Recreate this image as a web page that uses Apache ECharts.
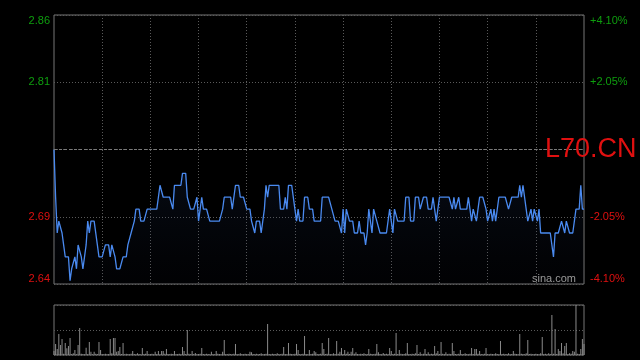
<!DOCTYPE html>
<html><head><meta charset="utf-8">
<script src="https://cdn.jsdelivr.net/npm/echarts@6/dist/echarts.min.js"></script>
<style>html,body{margin:0;padding:0;background:#000}#c{width:640px;height:360px}</style>
</head><body><div id="c"></div>
<script>
// previous close (reference line) and tick levels in basis points
const prevClose = 2.75;
const pctTicks = [-410, -205, 0, 205, 410];
const symbolText = 'L70.CN';
const watermark = 'sina.com';

// minute prices
const priceData = [
2.75,2.71,2.68,2.69,2.69,2.68,2.67,2.66,2.66,2.66,
2.64,2.65,2.65,2.66,2.65,2.67,2.67,2.66,2.65,2.65,
2.67,2.69,2.68,2.69,2.69,2.69,2.69,2.67,2.66,2.66,
2.66,2.66,2.67,2.67,2.67,2.66,2.67,2.67,2.66,2.65,
2.65,2.65,2.65,2.66,2.66,2.66,2.67,2.67,2.68,2.68,
2.69,2.70,2.70,2.70,2.69,2.69,2.69,2.69,2.70,2.70,
2.70,2.70,2.70,2.70,2.70,2.71,2.72,2.72,2.71,2.71,
2.71,2.71,2.71,2.71,2.70,2.72,2.72,2.72,2.72,2.72,
2.73,2.73,2.73,2.71,2.71,2.70,2.70,2.70,2.70,2.71,
2.69,2.70,2.71,2.70,2.70,2.70,2.70,2.69,2.69,2.69,
2.69,2.69,2.69,2.69,2.69,2.70,2.71,2.71,2.71,2.71,
2.71,2.70,2.70,2.72,2.72,2.72,2.71,2.71,2.71,2.71,
2.70,2.70,2.70,2.69,2.69,2.68,2.69,2.69,2.69,2.68,
2.68,2.70,2.72,2.71,2.72,2.72,2.72,2.72,2.72,2.72,
2.72,2.70,2.70,2.70,2.71,2.70,2.72,2.72,2.72,2.72,
2.70,2.69,2.70,2.69,2.69,2.69,2.71,2.71,2.71,2.70,
2.70,2.70,2.69,2.69,2.69,2.69,2.69,2.71,2.71,2.71,
2.71,2.71,2.71,2.70,2.70,2.69,2.69,2.69,2.69,2.68,
2.70,2.68,2.70,2.70,2.69,2.69,2.69,2.68,2.68,2.68,
2.69,2.68,2.68,2.68,2.67,2.68,2.70,2.70,2.68,2.70,
2.70,2.69,2.69,2.68,2.68,2.68,2.68,2.68,2.68,2.70,
2.69,2.68,2.70,2.70,2.69,2.69,2.69,2.69,2.69,2.71,
2.71,2.71,2.69,2.69,2.69,2.71,2.71,2.71,2.70,2.70,
2.71,2.71,2.71,2.70,2.70,2.70,2.71,2.71,2.69,2.69,
2.71,2.71,2.71,2.71,2.71,2.71,2.71,2.71,2.70,2.71,
2.70,2.70,2.71,2.70,2.70,2.70,2.70,2.70,2.71,2.70,
2.69,2.70,2.70,2.69,2.70,2.71,2.71,2.71,2.71,2.70,
2.69,2.69,2.70,2.69,2.70,2.69,2.69,2.71,2.71,2.71,
2.71,2.71,2.71,2.70,2.70,2.71,2.71,2.71,2.71,2.71,
2.72,2.71,2.72,2.72,2.70,2.69,2.69,2.70,2.69,2.70,
2.70,2.69,2.70,2.68,2.68,2.68,2.68,2.68,2.68,2.68,
2.68,2.66,2.68,2.68,2.68,2.68,2.69,2.69,2.68,2.69,
2.69,2.68,2.68,2.68,2.69,2.70,2.70,2.70,2.72,2.70,
2.70
];

// minute volumes (relative units)
const volumeData = [
12,33,18,63,30,48,4,36,20,27,
51,3,5,15,2,30,81,4,3,2,
22,3,39,10,2,10,4,3,39,15,
3,2,4,2,3,48,5,51,51,10,
12,24,3,36,2,4,3,2,4,12,
3,2,5,3,2,21,3,4,12,2,
3,4,2,10,3,12,2,12,12,4,
18,3,2,4,3,12,2,3,4,2,
24,12,3,75,4,2,12,3,6,2,
3,4,21,3,2,4,3,2,10,3,
2,12,4,3,2,10,45,3,2,4,
3,2,4,33,3,2,5,3,2,4,
3,2,10,8,3,2,4,2,3,5,
2,3,4,93,3,2,4,3,2,5,
3,2,4,24,3,2,36,4,3,2,
4,33,15,3,2,4,57,3,2,15,
3,4,12,8,2,3,4,36,18,3,
4,51,3,2,5,3,42,4,10,21,
3,15,4,10,3,10,21,4,8,3,
2,4,3,5,2,3,18,4,3,2,
4,33,8,3,2,6,3,4,2,21,
12,3,4,66,3,15,4,2,3,5,
36,3,2,4,3,5,30,3,8,2,
4,18,3,8,2,4,3,27,5,12,
3,39,4,3,8,2,4,3,36,12,
3,2,4,15,3,2,5,3,2,4,
21,3,18,18,4,12,3,2,4,21,
3,2,4,3,2,5,3,2,42,3,
4,2,3,5,2,3,12,4,3,2,
63,4,3,2,5,45,3,4,2,3,
4,3,2,5,54,3,4,2,5,3,
120,4,78,3,18,12,36,5,27,36,
3,5,4,12,10,150,4,3,18,48,
33
];

// trading minutes (HK session): 09:30-12:00, 13:01-16:00
const sessions = [['09:30','12:00'], ['13:01','16:00']];
const times = [];
sessions.forEach(([a, b]) => {
  const toM = s => +s.slice(0,2) * 60 + +s.slice(3);
  for (let m = toM(a); m <= toM(b); m++) {
    times.push(String(Math.floor(m / 60)).padStart(2,'0') + ':' + String(m % 60).padStart(2,'0'));
  }
});

const pMin = prevClose * (1 + pctTicks[0] / 10000);
const pMax = prevClose * (1 + pctTicks[pctTicks.length - 1] / 10000);
const pStep = pctTicks[1] - pctTicks[0];
const volMax = Math.max(...volumeData);

const GREEN = '#0e9e0e', RED = '#e01010', GRID = '#5a5a5a', BORDER = '#777';
const FONT = 'Liberation Sans, Arial, sans-serif';

const chart = echarts.init(document.getElementById('c'), null, {renderer: 'canvas'});
chart.setOption({
  backgroundColor: '#000',
  animation: false,
  grid: [
    {left: 54, top: 15, width: 530, height: 269, show: true, borderColor: BORDER, borderWidth: 1, backgroundColor: 'transparent'},
    {left: 54, top: 305, width: 530, height: 50, show: true, borderColor: BORDER, borderWidth: 1, backgroundColor: 'transparent'}
  ],
  xAxis: [
    {gridIndex: 0, type: 'category', data: times, boundaryGap: false,
     axisLine: {show: false}, axisTick: {show: false}, axisLabel: {show: false},
     splitLine: {show: true, interval: (i) => i % 30 === 0 && i > 0 && i < times.length - 1,
                 lineStyle: {color: GRID, type: [1, 2], width: 1}}},
    {gridIndex: 1, type: 'category', data: times, boundaryGap: false,
     axisLine: {show: false}, axisTick: {show: false}, axisLabel: {show: false}, splitLine: {show: false}}
  ],
  yAxis: [
    {gridIndex: 0, type: 'value', position: 'left', min: pctTicks[0], max: pctTicks[pctTicks.length-1], interval: pStep,
     axisLine: {show: false}, axisTick: {show: false},
     axisLabel: {margin: 4, fontSize: 11, fontFamily: FONT,
       verticalAlignMinLabel: 'bottom', verticalAlignMaxLabel: 'top',
       color: (v) => (+v > 0 ? GREEN : RED),
       formatter: (v) => v === 0 ? '' : (prevClose * (1 + v / 10000)).toFixed(2)},
     splitLine: {show: true, lineStyle: {color: GRID, type: [1, 2]}}},
    {gridIndex: 0, type: 'value', position: 'right', min: pctTicks[0], max: pctTicks[pctTicks.length-1], interval: pStep,
     axisLine: {show: false}, axisTick: {show: false},
     axisLabel: {margin: 6, fontSize: 11, fontFamily: FONT,
       verticalAlignMinLabel: 'bottom', verticalAlignMaxLabel: 'top',
       color: (v) => (+v > 0 ? GREEN : RED),
       formatter: (v) => v === 0 ? '' : (v > 0 ? '+' : '') + (v / 100).toFixed(2) + '%'},
     splitLine: {show: false}},
    {gridIndex: 0, type: 'value', min: pMin, max: pMax, show: false, splitLine: {show: false}},
    {gridIndex: 1, type: 'value', min: 0, max: volMax, interval: volMax / 2, show: true,
     axisLine: {show: false}, axisTick: {show: false}, axisLabel: {show: false},
     splitLine: {show: true, lineStyle: {color: GRID, type: [1, 2]}}}
  ],
  series: [
    {type: 'line', xAxisIndex: 0, yAxisIndex: 2, data: priceData, symbol: 'none', smooth: false,
     lineStyle: {color: '#4a8af0', width: 1.3},
     areaStyle: {origin: 'start', color: new echarts.graphic.LinearGradient(0, 0, 0, 1, [
        {offset: 0, color: 'rgba(40,70,130,0.28)'}, {offset: 1, color: 'rgba(20,30,60,0.08)'}])},
     markLine: {silent: true, symbol: 'none', label: {show: false},
       lineStyle: {color: '#7a7a7a', type: [3, 2], width: 1},
       data: [{yAxis: prevClose}]},
     z: 3},
    {type: 'bar', xAxisIndex: 1, yAxisIndex: 3, data: volumeData, barWidth: 1,
     itemStyle: {color: '#8a8a8a'}}
  ],
  graphic: [
    {type: 'text', z: 100, left: 545, top: 136,
     style: {text: symbolText, fill: '#e01010', font: '27px ' + FONT}},
    {type: 'text', z: 100, left: 532, top: 273,
     style: {text: watermark, fill: '#9a9a9a', font: '11px ' + FONT}}
  ]
});
</script>
</body></html>
